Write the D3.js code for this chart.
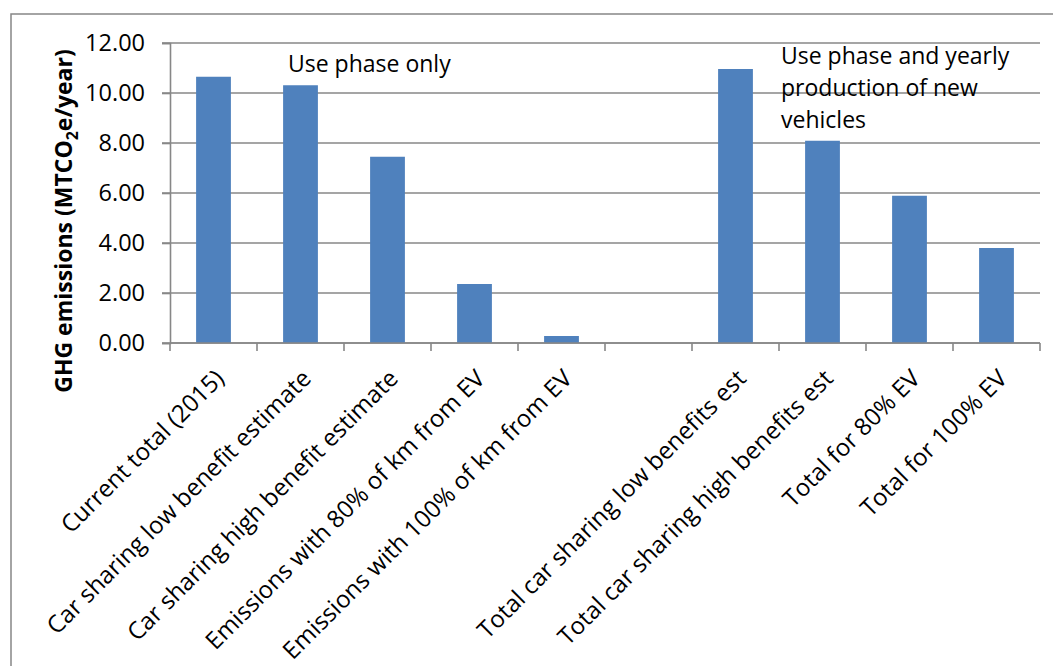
<!DOCTYPE html>
<html>
<head>
<meta charset="utf-8">
<script src="https://cdn.jsdelivr.net/npm/d3@7"></script>
<style>
  html, body { margin: 0; padding: 0; background: #fff; }
  svg { display: block; }
  text { font-family: "Open Sans", "Noto Sans", sans-serif; fill: #000; }
</style>
</head>
<body>
<svg id="chart" width="1053" height="666"></svg>
<script>
const categories = [
  "Current total (2015)",
  "Car sharing low benefit estimate",
  "Car sharing high benefit estimate",
  "Emissions with 80% of km from EV",
  "Emissions with 100% of km from EV",
  "",
  "Total car sharing low benefits est",
  "Total car sharing high benefits est",
  "Total for 80% EV",
  "Total for 100% EV"
];
const values = [10.65, 10.31, 7.45, 2.36, 0.28, null, 10.96, 8.09, 5.89, 3.80];
const yTicks = [0, 2, 4, 6, 8, 10, 12];
const yTitle = "GHG emissions (MTCO";
const annotations = [
  { lines: ["Use phase only"] },
  { lines: ["Use phase and yearly", "production of new", "vehicles"] }
];

const svg = d3.select("#chart");
const W = 1053, H = 666;
const plot = { left: 170, right: 1040, top: 43, bottom: 343 };
const gridColor = "#878787";

// outer chart border
svg.append("rect")
  .attr("x", 11).attr("y", 14)
  .attr("width", W + 20).attr("height", H + 20)
  .attr("fill", "none").attr("stroke", gridColor).attr("stroke-width", 1.5);

const x = d3.scaleBand()
  .domain(d3.range(categories.length))
  .range([plot.left, plot.right])
  .paddingInner(0.6).paddingOuter(0.3);

const y = d3.scaleLinear().domain([0, 12]).range([plot.bottom, plot.top]);

// gridlines
svg.append("g")
  .selectAll("line.grid")
  .data(yTicks)
  .join("line")
  .attr("x1", plot.left - 8).attr("x2", plot.right)
  .attr("y1", d => y(d)).attr("y2", d => y(d))
  .attr("stroke", gridColor).attr("stroke-width", 1.6);

// y axis
const yAxis = svg.append("g")
  .attr("transform", `translate(${plot.left},0)`)
  .call(d3.axisLeft(y).tickValues(yTicks).tickFormat(d3.format(".2f")).tickSize(8).tickPadding(17));
yAxis.select(".domain").attr("stroke", gridColor).attr("stroke-width", 1.6);
yAxis.selectAll(".tick line").attr("stroke", gridColor).attr("stroke-width", 1.6);
yAxis.selectAll(".tick text")
  .style("font-size", "23.5px").style("font-family", "'Open Sans', sans-serif").attr("fill", "#000");

// bars
svg.append("g")
  .selectAll("rect.bar")
  .data(values.map((v, i) => ({ v, i })).filter(d => d.v !== null))
  .join("rect")
  .attr("x", d => x(d.i))
  .attr("y", d => y(d.v))
  .attr("width", x.bandwidth())
  .attr("height", d => y(0) - y(d.v))
  .attr("fill", "#4F81BD");

// x axis line and ticks at category boundaries
const step = x.step();
const boundaries = d3.range(categories.length + 1).map(i => plot.left + i * step);
svg.append("line")
  .attr("x1", plot.left).attr("x2", plot.right)
  .attr("y1", y(0)).attr("y2", y(0))
  .attr("stroke", gridColor).attr("stroke-width", 1.6);
svg.append("g")
  .selectAll("line")
  .data(boundaries)
  .join("line")
  .attr("x1", d => d).attr("x2", d => d)
  .attr("y1", y(0)).attr("y2", y(0) + 8)
  .attr("stroke", gridColor).attr("stroke-width", 1.6);

// category labels
svg.append("g")
  .selectAll("text")
  .data(categories.map((c, i) => ({ c, i })))
  .join("text")
  .attr("transform", d => `translate(${x(d.i) + x.bandwidth() / 2 + 12},${y(0) + 37}) rotate(-45)`)
  .attr("text-anchor", "end")
  .style("font-size", "24px")
  .text(d => d.c);

// y axis title
const yt = svg.append("text")
  .attr("transform", `translate(72,221) rotate(-90)`)
  .attr("text-anchor", "middle")
  .style("font-size", "23px").style("font-weight", "bold");
yt.append("tspan").text(yTitle);
yt.append("tspan").attr("dy", 6).style("font-size", "16px").text("2");
yt.append("tspan").attr("dy", -6).text("e/year)");

// annotations
const annPos = [{ x: 288, y: 72 }, { x: 781, y: 64 }];
annotations.forEach((a, k) => {
  const t = svg.append("text")
    .attr("x", annPos[k].x).attr("y", annPos[k].y)
    .style("font-size", "23px");
  a.lines.forEach((ln, j) => {
    t.append("tspan").attr("x", annPos[k].x).attr("dy", j === 0 ? 0 : 32).text(ln);
  });
});
</script>
</body>
</html>
